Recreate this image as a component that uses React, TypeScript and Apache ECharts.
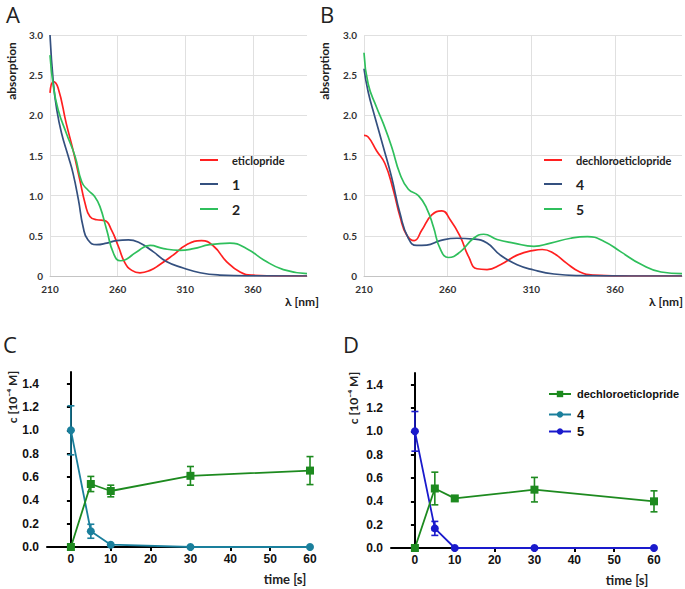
import React, { useEffect, useRef } from "react";
import * as echarts from "echarts";

// ---------- Panel A spectra (wavelength nm, absorption) ----------
const eticlopride: [number, number][] = [
  [210, 2.28], [212.5, 2.42], [216, 2.34], [222, 1.9], [227, 1.57], [232, 1.2], [236, 0.9],
  [239.5, 0.74], [244.5, 0.7], [250.5, 0.69], [255.5, 0.57], [260.5, 0.37], [265.5, 0.16],
  [270.5, 0.07], [276.5, 0.04], [284, 0.07], [291, 0.14], [301, 0.26], [311, 0.39], [322, 0.44],
  [331, 0.37], [340.5, 0.18], [350.5, 0.05], [360, 0.01], [380, 0], [400, 0],
];
const compound1: [number, number][] = [
  [210, 3.0], [212.5, 2.4], [215, 2.07], [218.5, 1.78], [223.5, 1.49], [227, 1.28], [231, 0.95],
  [234.5, 0.61], [238, 0.45], [244.5, 0.39], [252, 0.41], [259, 0.44], [268, 0.45], [276.5, 0.41],
  [286.5, 0.3], [296, 0.18], [308.5, 0.1], [321, 0.04], [335.5, 0.012], [360, 0.002], [400, 0],
];
const compound2: [number, number][] = [
  [210, 2.75], [212.5, 2.36], [216, 2.07], [222, 1.78], [228.5, 1.49], [233.5, 1.17], [238, 1.07],
  [243, 0.99], [247, 0.86], [252, 0.57], [257, 0.28], [262, 0.19], [266.5, 0.21], [274, 0.3],
  [284, 0.38], [294, 0.34], [306, 0.32], [316, 0.34], [328, 0.39], [343, 0.41], [355.5, 0.34],
  [368, 0.2], [382.5, 0.08], [400, 0.03],
];

// ---------- Panel B spectra ----------
const dechloroSpec: [number, number][] = [
  [210, 1.75], [212.5, 1.73], [217.5, 1.56], [222.5, 1.4], [227.5, 1.07], [231.5, 0.74],
  [235.5, 0.51], [240, 0.44], [244.5, 0.57], [250.5, 0.76], [256.5, 0.81], [261.5, 0.7],
  [267.5, 0.49], [272.5, 0.24], [277.5, 0.09], [283.5, 0.08], [291.5, 0.14], [301.5, 0.26],
  [311.5, 0.32], [316.5, 0.33], [323.5, 0.28], [331, 0.16], [339, 0.05], [347, 0.012], [370, 0], [400, 0],
];
const compound4: [number, number][] = [
  [210, 2.58], [212.5, 2.29], [216.5, 1.98], [221.5, 1.61], [226.5, 1.23], [231.5, 0.78],
  [236.5, 0.47], [241.5, 0.38], [247.5, 0.385], [255.5, 0.44], [265.5, 0.47], [275.5, 0.46],
  [283.5, 0.41], [291.5, 0.26], [301.5, 0.14], [311.5, 0.075], [323.5, 0.025], [339, 0.005], [370, 0], [400, 0],
];
const compound5: [number, number][] = [
  [210, 2.78], [212.5, 2.39], [217.5, 2.1], [221.5, 1.9], [226.5, 1.61], [231.5, 1.27], [236.5, 1.08],
  [242.5, 1.0], [247.5, 0.84], [251.5, 0.61], [255.5, 0.34], [260.5, 0.23], [267.5, 0.3], [275.5, 0.47],
  [281.5, 0.52], [289.5, 0.455], [299.5, 0.41], [311.5, 0.37], [321.5, 0.41], [333.5, 0.47],
  [343.5, 0.49], [353.5, 0.43], [363.5, 0.3], [375.5, 0.145], [387.5, 0.05], [400, 0.03],
];

const specXTicks = [210, 260, 310, 360];

// ---------- Panels C / D kinetics ----------
const times = [0, 5, 10, 30, 60];
const dechloroC = [0, 0.54, 0.48, 0.61, 0.655];
const dechloroCErr = [0, 0.065, 0.05, 0.08, 0.12];
const comp4C = [1.0, 0.135, 0.02, 0, 0];
const comp4CErr = [0.21, 0.06, 0, 0, 0];
const dechloroD = [0, 0.51, 0.425, 0.5, 0.4];
const dechloroDErr = [0, 0.14, 0.02, 0.105, 0.09];
const comp5D = [1.0, 0.168, 0, 0, 0];
const comp5DErr = [0.17, 0.06, 0, 0, 0];

const timeTicks = [0, 10, 20, 30, 40, 50, 60];
const concTicks = [0, 0.2, 0.4, 0.6, 0.8, 1.0, 1.2, 1.4];

const RED = "#ff2020";
const NAVY = "#34507f";
const LGREEN = "#2fbf5c";
const DGREEN = "#1d8a1f";
const TEAL = "#1a7f9c";
const BLUE = "#1a1acc";

const specFont = "Lato";
const kinFont = "Liberation Sans";

function specAxes(gridIndex: number) {
  const x = {
    type: "value",
    gridIndex,
    min: 210,
    max: 400,
    interval: 50,
    axisLine: { show: true, lineStyle: { color: "#c4c4c4", width: 1 } },
    axisTick: { show: false, customValues: specXTicks },
    axisLabel: {
      customValues: specXTicks,
      margin: 8,
      fontFamily: specFont,
      fontWeight: "bold",
      fontSize: 10,
      color: "#333",
    },
    splitLine: { show: true, lineStyle: { color: "#e0e0e0", width: 1 } },
  };
  const y = {
    type: "value",
    gridIndex,
    min: 0,
    max: 3,
    interval: 0.5,
    axisLine: { show: false },
    axisTick: { show: false },
    axisLabel: {
      margin: 7,
      fontFamily: specFont,
      fontWeight: "bold",
      fontSize: 10,
      color: "#333",
      formatter: (v: number) => (v === 0 ? "0" : v.toFixed(1)),
    },
    splitLine: { show: true, lineStyle: { color: "#e0e0e0", width: 1 } },
  };
  return { x, y };
}

function kinAxes(gridIndex: number) {
  const x = {
    type: "value",
    gridIndex,
    min: -6,
    max: 60,
    axisLine: { show: true, onZero: false, lineStyle: { color: "#000", width: 2 } },
    axisTick: { show: true, customValues: timeTicks, length: 4, lineStyle: { color: "#000", width: 2 } },
    axisLabel: {
      customValues: timeTicks,
      margin: 6,
      fontFamily: kinFont,
      fontWeight: "bold",
      fontSize: 12,
      color: "#111",
    },
    splitLine: { show: false },
  };
  const y = {
    type: "value",
    gridIndex,
    min: 0,
    max: 1.5,
    axisLine: { show: true, lineStyle: { color: "#000", width: 2 } },
    axisTick: { show: true, customValues: concTicks, length: 4, lineStyle: { color: "#000", width: 2 } },
    axisLabel: {
      customValues: concTicks,
      margin: 8,
      fontFamily: kinFont,
      fontWeight: "bold",
      fontSize: 12,
      color: "#111",
      formatter: (v: number) => v.toFixed(1),
    },
    splitLine: { show: false },
  };
  return { x, y };
}

function specSeries(name: string, data: [number, number][], color: string, idx: number) {
  return {
    type: "line",
    name,
    xAxisIndex: idx,
    yAxisIndex: idx,
    data,
    smooth: 0.5,
    symbol: "none",
    lineStyle: { color, width: 1.7 },
    itemStyle: { color },
  };
}

function errSeries(vals: number[], errs: number[], color: string, idx: number) {
  const data = times.map((t, i) => [t, vals[i] - errs[i], vals[i] + errs[i], errs[i]]);
  return {
    type: "custom",
    xAxisIndex: idx,
    yAxisIndex: idx,
    data,
    z: 3,
    silent: true,
    renderItem: (params: any, api: any) => {
      const e = api.value(3);
      if (!e) return null;
      const x = api.value(0);
      const lo = api.coord([x, api.value(1)]);
      const hi = api.coord([x, api.value(2)]);
      const w = 3.5;
      const st = { stroke: color, lineWidth: 1.6 };
      return {
        type: "group",
        children: [
          { type: "line", shape: { x1: lo[0], y1: lo[1], x2: hi[0], y2: hi[1] }, style: st },
          { type: "line", shape: { x1: lo[0] - w, y1: lo[1], x2: lo[0] + w, y2: lo[1] }, style: st },
          { type: "line", shape: { x1: hi[0] - w, y1: hi[1], x2: hi[0] + w, y2: hi[1] }, style: st },
        ],
      };
    },
  };
}

function kinSeries(name: string, vals: number[], color: string, symbol: string, idx: number) {
  return {
    type: "line",
    name,
    xAxisIndex: idx,
    yAxisIndex: idx,
    data: times.map((t, i) => [t, vals[i]]),
    symbol,
    symbolSize: 8,
    showAllSymbol: true,
    z: 4,
    lineStyle: { color, width: 1.8 },
    itemStyle: { color },
  };
}

function specLegend(name: string, left: number, cy: number, big: boolean) {
  return {
    show: true,
    data: [name],
    left,
    top: cy - 7,
    orient: "vertical",
    padding: 0,
    icon: "rect",
    itemWidth: 18,
    itemHeight: 2,
    selectedMode: false,
    textStyle: {
      color: "#222",
      fontFamily: specFont,
      fontWeight: "bold",
      fontSize: big ? 14 : 11,
      lineHeight: 14,
      padding: [0, 0, 0, 9],
    },
  };
}

function kinLegend(name: string, left: number, cy: number) {
  return {
    show: true,
    data: [name],
    left,
    top: cy - 6,
    orient: "vertical",
    padding: 0,
    itemWidth: 22,
    itemHeight: 8,
    selectedMode: false,
    textStyle: {
      color: "#111",
      fontFamily: kinFont,
      fontWeight: "bold",
      fontSize: name.length > 2 ? 11 : 13,
      lineHeight: 12,
      padding: [0, 0, 0, 1],
    },
  };
}

export default function App() {
  const ref = useRef<HTMLDivElement>(null);
  useEffect(() => {
    if (!ref.current) return;
    const chart = echarts.init(ref.current, undefined, { renderer: "svg" });
    const a = specAxes(0);
    const b = specAxes(1);
    const c = kinAxes(2);
    const d = kinAxes(3);

    const label = (text: string, x: number, y: number, size: number) => ({
      type: "text",
      x,
      y,
      style: { text, fontSize: size, fontFamily: "Open Sans", fill: "#222", textAlign: "left", textVerticalAlign: "middle" },
    });
    const axName = (text: string, x: number, y: number, rot: boolean, font: string, size: number) => ({
      type: "text",
      x,
      y,
      rotation: rot ? Math.PI / 2 : 0,
      style: {
        text,
        fontSize: size,
        fontFamily: font,
        fontWeight: "bold",
        fill: "#222",
        textAlign: "center",
        textVerticalAlign: "middle",
      },
    });

    chart.setOption({
      animation: false,
      backgroundColor: "#fff",
      grid: [
        { left: 50, top: 35, width: 257, height: 241 },
        { left: 364, top: 35, width: 318, height: 241 },
        { left: 47, top: 372, width: 263, height: 175 },
        { left: 391, top: 373, width: 263, height: 175 },
      ],
      xAxis: [a.x, b.x, c.x, d.x],
      yAxis: [a.y, b.y, c.y, d.y],
      legend: [
        specLegend("eticlopride", 200, 160, false),
        specLegend("1", 200, 184, true),
        specLegend("2", 200, 209, true),
        specLegend("dechloroeticlopride", 544, 160, false),
        specLegend("4", 544, 184, true),
        specLegend("5", 544, 209, true),
        kinLegend("dechloroeticlopride ", 548, 394),
        kinLegend("4 ", 548, 414),
        kinLegend("5 ", 548, 431),
      ],
      series: [
        specSeries("eticlopride", eticlopride, RED, 0),
        specSeries("1", compound1, NAVY, 0),
        specSeries("2", compound2, LGREEN, 0),
        specSeries("dechloroeticlopride", dechloroSpec, RED, 1),
        specSeries("4", compound4, NAVY, 1),
        specSeries("5", compound5, LGREEN, 1),
        errSeries(comp4C, comp4CErr, TEAL, 2),
        errSeries(dechloroC, dechloroCErr, DGREEN, 2),
        kinSeries("4C", comp4C, TEAL, "circle", 2),
        kinSeries("dechloroC", dechloroC, DGREEN, "rect", 2),
        errSeries(comp5D, comp5DErr, BLUE, 3),
        errSeries(dechloroD, dechloroDErr, DGREEN, 3),
        kinSeries("5 ", comp5D, BLUE, "circle", 3),
        kinSeries("dechloroeticlopride ", dechloroD, DGREEN, "rect", 3),
        kinSeries("4 ", [], TEAL, "circle", 3),
      ],
      graphic: [
        label("A", 6, 14, 22),
        label("B", 320, 14, 22),
        label("C", 3, 344, 22),
        label("D", 343, 344, 22),
        axName("absorption", 11, 71, true, specFont, 12),
        axName("absorption", 324, 71, true, specFont, 12),
        axName("λ [nm]", 302, 301, false, specFont, 12),
        axName("λ [nm]", 666, 301, false, specFont, 12),
        axName("c [10⁻⁴ M]", 12, 397, true, specFont, 12),
        axName("c [10⁻⁴ M]", 353, 398, true, specFont, 12),
        axName("time [s]", 285, 579, false, specFont, 13),
        axName("time [s]", 627, 580, false, specFont, 13),
      ],
    });
    return () => chart.dispose();
  }, []);
  return <div ref={ref} style={{ position: "absolute", left: 0, top: 0, width: 685, height: 589 }} />;
}
